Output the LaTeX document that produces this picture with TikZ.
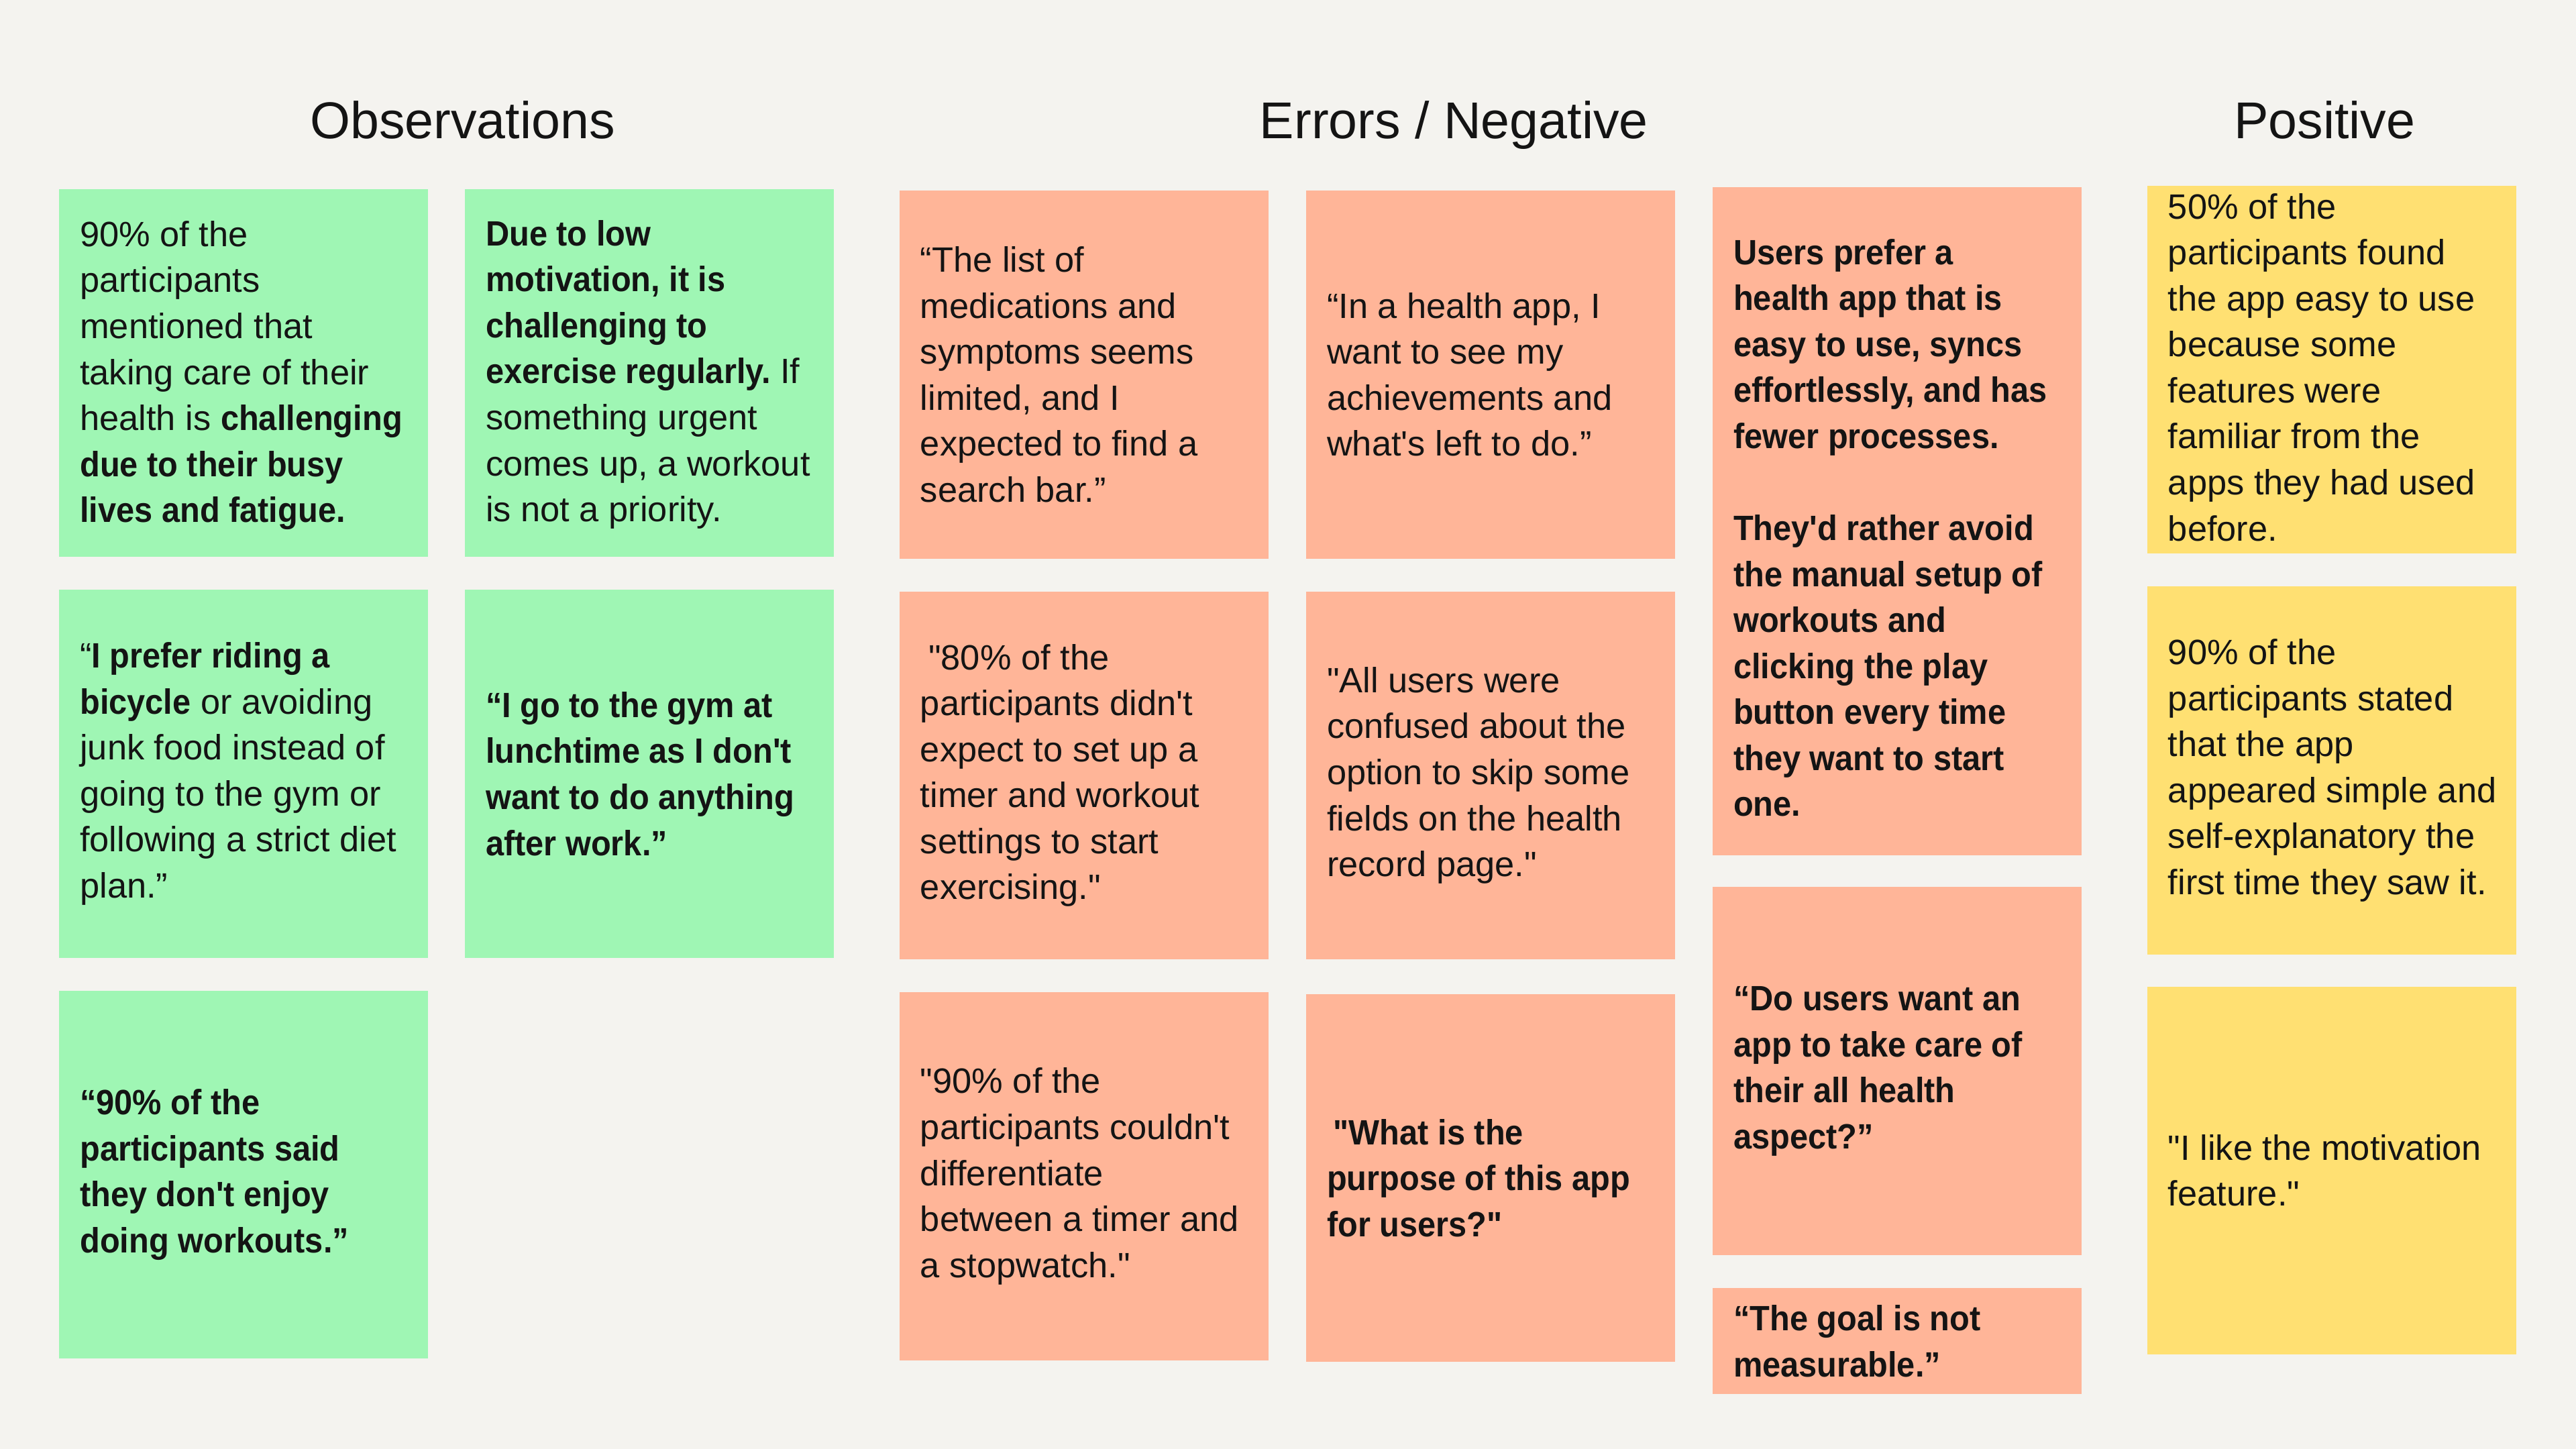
\documentclass[tikz,border=0pt]{standalone}
\usepackage{fontspec}
\setmainfont{Liberation Sans}[Ligatures=TeXOff, BoldFeatures={FakeStretch=0.93}]
\frenchspacing
\definecolor{board}{RGB}{244,243,239}
\definecolor{mint}{RGB}{159,246,180}
\definecolor{peach}{RGB}{255,181,152}
\definecolor{butter}{RGB}{255,224,114}
\definecolor{ink}{RGB}{20,20,20}

% one sticky note: [text shift], name, fill, left x, top y, height, text
\newcommand\stickynote[7][0pt]{%
  \node[box, fill=#3, minimum height=#6pt] (#2) at (#4,#5) {};
  \node[txt] (#2t) at ([xshift=12.5pt, yshift=#1]#2.west) {#7};%
}

\begin{document}
\begin{tikzpicture}[x=1pt, y=-1pt,
  box/.style={anchor=north west, minimum width=224.5pt, inner sep=0pt, outer sep=0pt, draw=none},
  txt/.style={anchor=west, align=left, inner sep=0pt, text=ink, font=\fontsize{21.4}{28}\selectfont},
  heading/.style={anchor=base, inner sep=0pt, text=ink, font=\fontsize{31.5}{38}\selectfont}]

\fill[board] (0,0) rectangle (1568,882);
\useasboundingbox (0,0) rectangle (1568,882);

% column headings
\node[heading] (hObs) at (281.5,84.5) {Observations};
\node[heading] (hNeg) at (885,84.5) {Errors / Negative};
\node[heading] (hPos) at (1415,84.5) {Positive};

% Observations
\stickynote[-1.5pt]{o1}{mint}{36}{115}{224}{90\% of the\\participants\\mentioned that\\taking care of their\\health is \textbf{challenging}\\\textbf{due to their busy}\\\textbf{lives and fatigue.}}
\stickynote[-1pt]{o2}{mint}{283}{115}{224}{\textbf{Due to low}\\\textbf{motivation, it is}\\\textbf{challenging to}\\\textbf{exercise regularly.} If\\something urgent\\comes up, a workout\\is not a priority.}
\stickynote{o3}{mint}{36}{359}{224}{“\textbf{I prefer riding a}\\\textbf{bicycle} or avoiding\\junk food instead of\\going to the gym or\\following a strict diet\\plan.”}
\stickynote{o4}{mint}{283}{359}{224}{\bfseries “I go to the gym at\\\bfseries lunchtime as I don't\\\bfseries want to do anything\\\bfseries after work.”}
\stickynote{o5}{mint}{36}{603}{224}{\bfseries “90\% of the\\\bfseries participants said\\\bfseries they don't enjoy\\\bfseries doing workouts.”}

% Errors / Negative
\stickynote{n1}{peach}{547.5}{116}{224}{“The list of\\medications and\\symptoms seems\\limited, and I\\expected to find a\\search bar.”}
\stickynote{n2}{peach}{795}{116}{224}{“In a health app, I\\want to see my\\achievements and\\what's left to do.”}
\stickynote{n3}{peach}{547.5}{360}{224}{\hspace*{5pt}"80\% of the\\participants didn't\\expect to set up a\\timer and workout\\settings to start\\exercising."}
\stickynote{n4}{peach}{795}{360}{224}{"All users were\\confused about the\\option to skip some\\fields on the health\\record page."}
\stickynote{n5}{peach}{547.5}{604}{224}{"90\% of the\\participants couldn't\\differentiate\\between a timer and\\a stopwatch."}
\stickynote{n6}{peach}{795}{605}{224}{\bfseries\hspace*{4pt}"What is the\\\bfseries purpose of this app\\\bfseries for users?"}
\stickynote[-4pt]{n7}{peach}{1042.5}{114}{406.5}{\bfseries Users prefer a\\\bfseries health app that is\\\bfseries easy to use, syncs\\\bfseries effortlessly, and has\\\bfseries fewer processes.\\[28pt]\bfseries They'd rather avoid\\\bfseries the manual setup of\\\bfseries workouts and\\\bfseries clicking the play\\\bfseries button every time\\\bfseries they want to start\\\bfseries one.}
\stickynote{n8}{peach}{1042.5}{540}{224}{\bfseries “Do users want an\\\bfseries app to take care of\\\bfseries their all health\\\bfseries aspect?”}
\stickynote{n9}{peach}{1042.5}{784}{64.5}{\bfseries “The goal is not\\\bfseries measurable.”}

% Positive
\stickynote[1.5pt]{p1}{butter}{1307}{113}{224}{50\% of the\\participants found\\the app easy to use\\because some\\features were\\familiar from the\\apps they had used\\before.}
\stickynote{p2}{butter}{1307}{357}{224}{90\% of the\\participants stated\\that the app\\appeared simple and\\self-explanatory the\\first time they saw it.}
\stickynote{p3}{butter}{1307}{600.5}{224}{"I like the motivation\\feature."}

\end{tikzpicture}
\end{document}
